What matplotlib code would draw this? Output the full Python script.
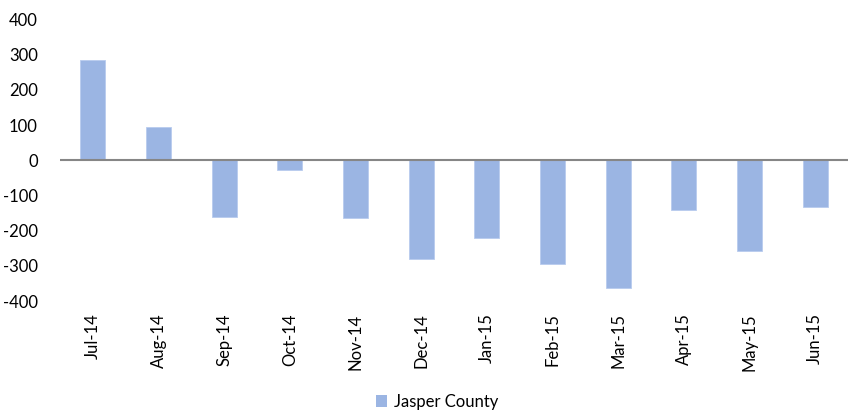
import matplotlib.pyplot as plt
from matplotlib.patches import Patch

months = ['Jul-14', 'Aug-14', 'Sep-14', 'Oct-14', 'Nov-14', 'Dec-14',
          'Jan-15', 'Feb-15', 'Mar-15', 'Apr-15', 'May-15', 'Jun-15']
jasper_county = [286, 95, -161, -29, -164, -281, -222, -295, -362, -141, -257, -134]
yticks = [-400, -300, -200, -100, 0, 100, 200, 300, 400]

bar_color = '#9bb5e3'
plt.rcParams['font.family'] = ['Lato', 'DejaVu Sans']

fig = plt.figure(figsize=(8.53, 4.13), dpi=100)
ax = fig.add_axes([60 / 853, 1 - 301 / 413, 788 / 853, (301 - 19.5) / 413])

x = range(len(months))
ax.bar(x, jasper_county, width=0.38, color=bar_color, edgecolor='#b8cbee', linewidth=0.6, zorder=2)
ax.axhline(0, color='#868686', linewidth=1.5, zorder=3)

ax.set_xlim(-0.5, len(months) - 0.5)
ax.set_ylim(-400, 400)
ax.set_yticks(yticks)
ax.set_yticklabels([str(v) for v in yticks], fontsize=12)
ax.set_xticks(list(x))
ax.set_xticklabels(months, rotation=90, fontsize=12)
ax.tick_params(axis='both', length=0, colors='#000000')
ax.tick_params(axis='x', pad=9)
ax.tick_params(axis='y', pad=16)
for s in ax.spines.values():
    s.set_visible(False)

handle = Patch(facecolor=bar_color, edgecolor='none')
fig.legend([handle], ['Jasper County'], loc='center', bbox_to_anchor=(437 / 853, 1 - 402 / 413),
           frameon=False, fontsize=12, handlelength=0.7, handleheight=0.7, handletextpad=0.4)

fig.savefig('out.png', dpi=100)
